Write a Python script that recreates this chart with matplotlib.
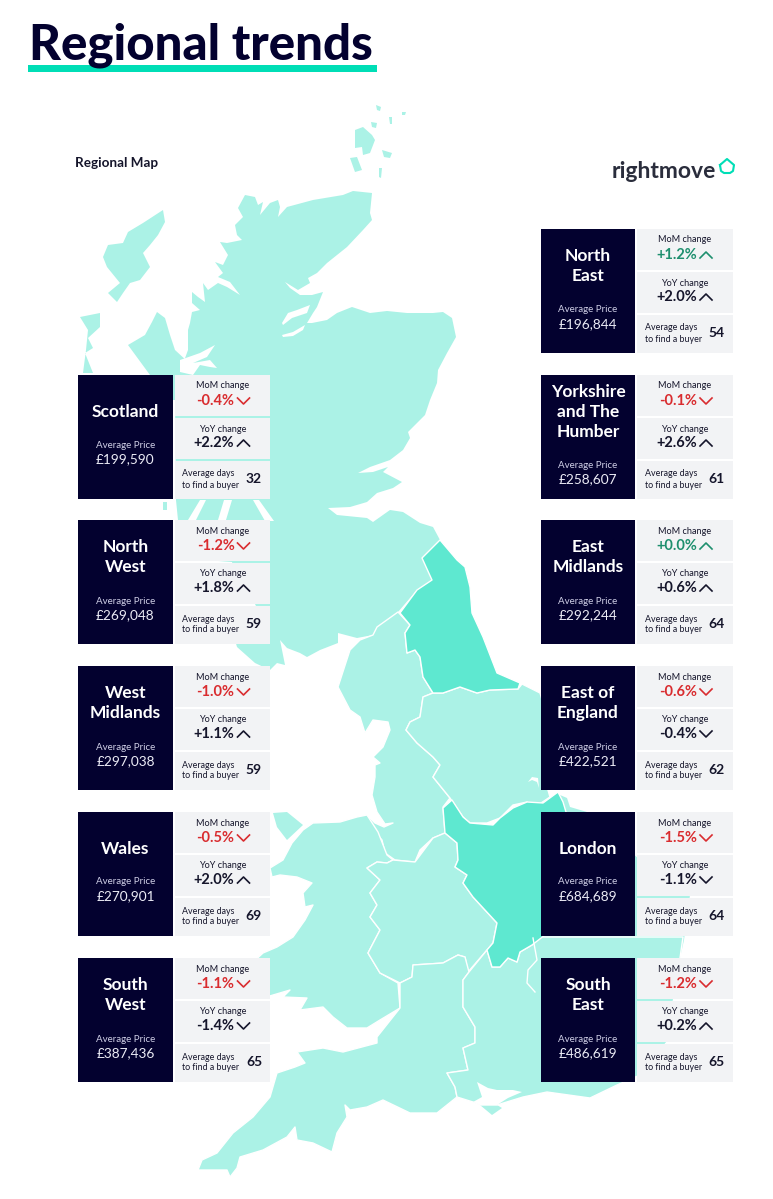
import matplotlib
matplotlib.use('Agg')
import matplotlib.pyplot as plt
from matplotlib.patches import Polygon, Rectangle

plt.rcParams['font.family'] = ['Lato', 'DejaVu Sans']

# ==================== data ====================
names_left = ['Scotland', 'North\nWest', 'West\nMidlands', 'Wales', 'South\nWest']
price_left = ['£199,590', '£269,048', '£297,038', '£270,901', '£387,436']
mom_left = [-0.4, -1.2, -1.0, -0.5, -1.1]
yoy_left = [2.2, 1.8, 1.1, 2.0, -1.4]
days_left = [32, 59, 59, 69, 65]

names_right = ['North\nEast', 'Yorkshire\nand The\nHumber', 'East\nMidlands', 'East of\nEngland', 'London', 'South\nEast']
price_right = ['£196,844', '£258,607', '£292,244', '£422,521', '£684,689', '£486,619']
mom_right = [1.2, -0.1, 0.0, -0.6, -1.5, -1.2]
yoy_right = [2.0, 2.6, 0.6, -0.4, -1.1, 0.2]
days_right = [54, 61, 64, 62, 64, 65]

rows_left = [375, 520, 666, 812, 958]
rows_right = [229, 375, 520, 666, 812, 958]

# map outlines (pixel coordinates)
scotland = [(245,195),(255,197),(258,205),(263,202),(260,215),(270,203),(278,200),(280,207),(278,217),(287,207),
            (313,200),(343,195),(353,191),(372,193),(370,213),(372,220),(363,230),(347,247),(327,263),(317,273),
            (308,278),(310,283),(298,290),(285,282),(290,288),(300,295),(312,295),(323,292),(317,307),(313,313),
            (307,323),(312,323),(327,320),(337,313),(352,307),(370,313),(387,311),(407,313),(433,313),(443,312),(452,318),
            (456,337),(447,353),(438,370),(437,383),(430,400),(425,415),(413,427),(408,432),(410,438),(403,450),
            (390,460),(370,467),(358,473),(373,472),(388,467),(383,472),(402,482),(393,488),(377,493),(367,502),
            (350,507),(328,508),(337,515),(367,518),(373,522),(390,510),(403,512),(420,523),(433,527),(440,540),
            (422,558),(432,580),(417,590),(398,612),(377,628),(373,635),(357,638),(338,633),(338,643),(320,650),
            (307,657),(300,653),(287,648),(280,640),(285,665),(277,663),(270,670),(255,663),(237,647),(235,640),
            (258,610),(253,600),(240,590),(232,562),(205,560),(178,520),(176,500),(175,400),(180,372),(188,350),
            (188,330),(190,323),(192,312),(200,310),(192,303),(192,292),(198,297),(205,302),(203,283),(208,290),
            (218,283),(227,287),(240,295),(230,282),(218,277),(223,273),(215,262),(223,265),(228,255),(220,242),
            (227,243),(242,240),(237,235),(235,225),(243,217),(238,208)]
argyll = [(128,345),(145,335),(152,322),(157,312),(165,318),(170,335),(175,350),(188,362),(206,372),(210,400),(170,400),(150,375)]
lewis = [(163,210),(165,222),(158,235),(150,245),(143,253),(150,267),(140,280),(130,283),(123,293),(117,302),(108,293),
         (120,283),(107,267),(103,257),(108,245),(123,243),(128,232),(143,223)]
uist = [(80,317),(100,313),(100,327),(88,338),(93,348),(85,353),(93,373),(83,373),(86,350),(88,330)]
islay = [(163,502),(167,502),(167,510),(163,510)]
orkney_main = [(355,130),(363,127),(372,135),(375,140),(370,153),(363,155),(362,147),(355,148)]
orkney_hoy = [(350,158),(357,157),(362,170),(355,172)]
orkney_small = [[(382,150),(392,153),(390,158),(384,157)], [(371,122),(377,123),(376,128),(372,127)],
                [(376,105),(381,107),(380,111),(377,110)], [(379,168),(382,168),(381,178),(379,177)],
                [(389,117),(392,117),(392,124),(390,124)], [(402,112),(406,112),(405,115),(402,115)]]
anglesey = [(273,813),(287,812),(303,825),(287,840),(277,827)]
wight = [(480,1105),(497,1105),(502,1108),(492,1115)]

north_east = [(440,540),(457,560),(465,567),(470,587),(472,613),(483,637),(497,673),(520,683),(518,689),(490,690),
              (477,693),(460,687),(443,693),(433,693),(423,677),(420,657),(415,650),(407,653),(405,633),(410,625),
              (400,613),(417,590),(432,580),(422,558)]
north_west = [(398,612),(377,627),(373,635),(360,640),(350,650),(338,687),(350,710),(360,717),(365,733),(373,720),
              (388,722),(390,730),(383,747),(373,757),(380,763),(375,765),(375,777),(372,795),(377,812),(385,824),
              (393,823),(384,827),(375,823),(365,813),(373,830),(382,840),(385,853),(395,860),(415,862),(420,850),
              (433,838),(445,833),(443,807),(450,798),(433,777),(440,765),(433,757),(417,743),(406,730),(410,722),
              (420,717),(423,697),(433,693),(423,677),(420,657),(415,650),(407,653),(405,633),(410,625)]
yorkshire = [(433,693),(443,693),(460,687),(477,693),(490,690),(518,689),(522,684),(540,693),(545,710),(545,780),
             (550,797),(535,807),(527,802),(513,805),(500,818),(487,823),(470,823),(463,817),(450,798),(433,777),
             (440,765),(433,757),(417,743),(406,730),(410,722),(420,717),(423,697)]
wales = [(367,815),(357,817),(340,822),(313,823),(303,830),(292,843),(283,860),(270,868),(272,877),(280,875),
         (297,877),(312,883),(303,893),(305,907),(313,905),(305,920),(293,937),(277,947),(263,953),(250,965),
         (250,998),(263,998),(290,990),(283,997),(307,998),(300,1010),(323,1007),(333,1017),(347,1028),(367,1028),
         (380,1020),(400,1008),(398,983),(380,973),(368,953),(380,930),(370,917),(377,905),(370,893),(380,880),
         (367,868),(377,862),(387,863),(393,860),(387,855),(378,832)]
west_midlands = [(367,868),(377,862),(387,863),(393,860),(415,862),(433,838),(445,833),(457,843),(458,860),(455,867),
                 (467,875),(463,883),(473,897),(497,923),(493,943),(487,950),(468,972),(465,957),(458,955),(443,963),
                 (413,965),(412,977),(400,983),(380,973),(368,953),(380,930),(370,917),(377,905),(370,893),(380,880)]
east_england_light = [(560,795),(567,798),(570,807),(587,812),(640,860),(660,880),(690,895),(684,940),(680,958),
                      (640,965),(540,965),(540,810)]
east_midlands = [(452,800),(443,808),(445,833),(457,843),(458,860),(455,867),(467,875),(463,883),(473,897),(497,923),
                 (493,943),(487,950),(492,967),(500,967),(508,958),(517,962),(520,952),(532,945),(545,935),(566,900),
                 (566,812),(563,802),(558,792),(543,803),(527,802),(513,808),(500,818),(493,825),(470,823),(463,817)]
south_west = [(400,983),(412,977),(413,965),(443,963),(458,955),(465,957),(469,972),(463,980),(463,1007),(475,1027),
              (475,1043),(463,1048),(468,1070),(447,1073),(455,1087),(457,1097),(437,1113),(410,1113),(383,1100),
              (367,1107),(350,1110),(345,1105),(347,1117),(337,1133),(332,1152),(313,1143),(297,1140),(295,1127),
              (287,1137),(263,1150),(240,1157),(237,1168),(230,1177),(227,1170),(210,1170),(198,1170),(202,1160),
              (217,1153),(233,1133),(253,1117),(270,1097),(277,1073),(295,1067),(305,1063),(297,1052),(323,1048),
              (343,1052),(377,1043),(377,1037),(400,1008)]
south_east = [(469,972),(463,980),(463,1007),(475,1027),(475,1043),(463,1048),(468,1070),(447,1073),(455,1087),(457,1097),
              (473,1102),(480,1105),(497,1105),(523,1097),(547,1092),(590,1098),(617,1085),(640,1075),(667,1042),
              (680,958),(683,937),(540,937),(532,945),(520,952),(517,962),(508,958),(500,967),(492,967),(487,950)]
london_line = [(533,938),(537,960),(528,970),(527,983),(535,992)]

sea_slivers = [[(282,323),(288,313),(297,310),(310,305),(307,313),(292,318),(283,325)],
               [(282,335),(293,332),(305,325),(303,330),(293,336),(283,337)],
               [(180,360),(200,353),(215,345),(207,357),(193,363),(210,360),(217,368),(210,367),(200,365),(193,375),(180,372)],
               [(528,782),(532,777),(538,778),(539,788),(537,782),(532,780)],
               [(473,1102),(482,1097),(477,1082),(488,1088),(497,1090),(513,1090),(522,1092),(508,1098),(497,1105),(480,1105)],
               [(200,500),(206,500),(196,520),(188,520)],
               [(224,500),(232,500),(226,520),(218,520)],
               [(253,500),(259,500),(274,521),(265,521)]]

# ==================== colours ====================
light = '#ABF2E6'
dark = '#5EE8D0'
navy = '#03012F'
tile = '#F2F3F5'
red = '#D92C2F'
green = '#1E8F6E'
ink = '#15152B'
accent = '#00DEB6'

fig = plt.figure(figsize=(7.73, 11.99), dpi=100)
ax = fig.add_axes([0, 0, 1, 1])
ax.set_xlim(0, 773)
ax.set_ylim(1199, 0)
ax.axis('off')

# ==================== map ====================
for shape in [scotland, argyll, lewis, uist, islay, orkney_main, orkney_hoy] + orkney_small + [anglesey, wight]:
    ax.add_patch(Polygon(shape, closed=True, fc=light, ec='none'))
ax.add_patch(Polygon(east_england_light, closed=True, fc=light, ec='none'))

for shape, col in [(north_west, light), (yorkshire, light), (wales, light), (west_midlands, light),
                   (south_west, light), (south_east, light), (north_east, dark), (east_midlands, dark)]:
    ax.add_patch(Polygon(shape, closed=True, fc=col, ec='white', lw=1.0, joinstyle='round'))
ax.plot(*zip(*london_line), color='white', lw=1.0)

for shape in sea_slivers:
    ax.add_patch(Polygon(shape, closed=True, fc='white', ec='none'))

# ==================== header ====================
ax.add_patch(Rectangle((28, 64.5), 349, 7, fc=accent, ec='none'))
ax.text(29, 60, 'Regional trends', fontsize=35.4, fontweight='black', color=navy, va='baseline', ha='left')
ax.text(75, 163, 'Regional Map', fontsize=9.7, fontweight='bold', color=ink, va='center', ha='left')

ax.text(612, 171, 'rightmove', fontsize=16.5, fontweight='bold', color='#2A2D3C', va='center', ha='left')
house = [(720,165),(727,159),(734,165),(733,171),(730,173),(724,173),(721,171),(720,165)]
ax.plot(*zip(*house), color=accent, lw=1.5)


# ==================== cards ====================
def chevron(x, y, value, col):
    s = 1 if value >= 0 else -1
    ax.plot([x, x + 6, x + 12], [y + 3 * s, y - 3 * s, y + 3 * s], color=col, lw=1.2)


def draw_card(x, top, name, price, mom, yoy, days):
    ax.add_patch(Rectangle((x, top), 94.5, 124, fc=navy, ec='none'))
    tx = x + 96.5
    tw = 95.5
    for y0, h in [(top, 41), (top + 43, 41), (top + 86, 38)]:
        ax.add_patch(Rectangle((tx, y0), tw, h, fc=tile, ec='none'))

    lines = name.split('\n')
    name_y = {1: [37], 2: [27, 47], 3: [17, 37, 57]}[len(lines)]
    label_y = {1: 70, 2: 81, 3: 90}[len(lines)]
    cx = x + 47.5
    for line, dy in zip(lines, name_y):
        ax.text(cx, top + dy, line, fontsize=12.5, fontweight='bold', color='white', ha='center', va='center')
    ax.text(cx, top + label_y, 'Average Price', fontsize=7, color='#CFCFE6', ha='center', va='center')
    ax.text(cx, top + label_y + 14, price, fontsize=9.8, color='#ECECF6', ha='center', va='center')

    # month on month
    mom_col = green if mom >= 0 else red
    ax.text(tx + 48, top + 11, 'MoM change', fontsize=6.6, color=ink, ha='center', va='center')
    ax.text(tx + 60, top + 26, f'{mom:+.1f}%', fontsize=10.5, fontweight='bold', color=mom_col, ha='right', va='center')
    chevron(tx + 63, top + 26, mom, mom_col)

    # year on year
    ax.text(tx + 48, top + 54, 'YoY change', fontsize=6.6, color=ink, ha='center', va='center')
    ax.text(tx + 60, top + 68, f'{yoy:+.1f}%', fontsize=10.5, fontweight='bold', color=ink, ha='right', va='center')
    chevron(tx + 63, top + 68, yoy, ink)

    ax.text(tx + 8, top + 99, 'Average days', fontsize=6.4, color=ink, ha='left', va='center')
    ax.text(tx + 8, top + 110, 'to find a buyer', fontsize=6.4, color=ink, ha='left', va='center')
    ax.text(tx + 79.5, top + 104, str(days), fontsize=10, fontweight='bold', color=ink, ha='center', va='center')


for i, top in enumerate(rows_left):
    draw_card(78, top, names_left[i], price_left[i], mom_left[i], yoy_left[i], days_left[i])
for i, top in enumerate(rows_right):
    draw_card(540.5, top, names_right[i], price_right[i], mom_right[i], yoy_right[i], days_right[i])

fig.savefig('out.png', dpi=100, facecolor='white')
